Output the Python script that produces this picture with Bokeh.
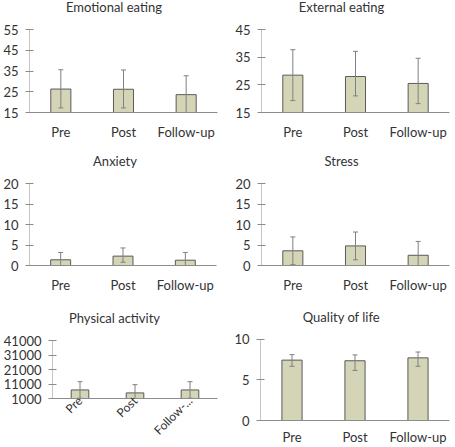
from math import pi

from bokeh.plotting import figure
from bokeh.layouts import column, row
from bokeh.models import Range1d, FactorRange, FixedTicker
from bokeh.core.properties import value
from bokeh.embed import file_html
from bokeh.resources import INLINE

# Measurement occasions
phases = ["Pre", "Post", "Follow-up"]
phases_pa = ["Pre", "Post", "Follow-..."]

# Emotional eating
emotional_mean = [26.3, 26.2, 23.6]
emotional_upper = [35.6, 35.5, 32.7]
emotional_lower = [17.2, 17.2, 14.5]

# External eating
external_mean = [28.5, 28.0, 25.5]
external_upper = [37.7, 37.1, 34.6]
external_lower = [19.3, 21.0, 18.2]

# Anxiety
anxiety_mean = [1.4, 2.3, 1.3]
anxiety_upper = [3.2, 4.3, 3.2]
anxiety_lower = [-0.4, 0.8, -0.6]

# Stress
stress_mean = [3.6, 4.8, 2.5]
stress_upper = [7.0, 8.2, 5.9]
stress_lower = [0.2, 1.4, -0.9]

# Physical activity
activity_mean = [6900, 4860, 6900]
activity_upper = [12600, 10550, 12600]
activity_lower = [1200, -840, 1200]

# Quality of life
qol_mean = [7.45, 7.37, 7.73]
qol_upper = [8.13, 8.09, 8.45]
qol_lower = [6.69, 6.18, 6.69]

# Y axis ticks
ticks_emotional = [15, 25, 35, 45, 55]
ticks_external = [15, 25, 35, 45]
ticks_0_20 = [0, 5, 10, 15, 20]
ticks_activity = [1000, 11000, 21000, 31000, 41000]
ticks_qol = [0, 5, 10]

FONT = "Lato"
TEXT = "#333333"
AXIS = "#8c8c8c"
BAR_FILL = "#d4d4b6"
BAR_LINE = "#5a5a5a"
ERR = "#808080"
TITLE_GAP = 23  # px between the title's centre and the top tick


def panel(title, cats, mean, lower, upper, ticks, width, height,
          left, right, top, bottom, rotate=False, label_standoff=11,
          label_size="13px"):
    ymin, ymax = ticks[0], ticks[-1]
    # the frame reaches the top edge so the title can sit inside it;
    # the top tick lands `top` px below the edge
    plot_px = height - bottom - top
    per_px = (ymax - ymin) / plot_px
    y_end = ymax + top * per_px

    p = figure(width=width, height=height,
               x_range=FactorRange(*cats), y_range=Range1d(ymin, y_end),
               output_backend="svg", toolbar_location=None,
               min_border_left=left, min_border_right=right,
               min_border_top=0, min_border_bottom=bottom)
    p.frame_align = False
    p.outline_line_color = None
    p.xgrid.grid_line_color = None
    p.ygrid.grid_line_color = None
    p.background_fill_color = "white"
    p.border_fill_color = "white"

    p.vbar(x=cats, top=mean, bottom=ymin, width=0.32,
           fill_color=BAR_FILL, line_color=BAR_LINE, line_width=1)
    p.segment(x0=cats, y0=lower, x1=cats, y1=upper,
              line_color=ERR, line_width=1)
    p.scatter(x=cats, y=upper, marker="dash", size=5,
              line_color=ERR, line_width=1)
    p.scatter(x=cats, y=lower, marker="dash", size=5,
              line_color=ERR, line_width=1)

    # value axis line only spans the tick range
    p.segment(x0=[0], y0=[ymin], x1=[0], y1=[ymax], line_color=AXIS, line_width=1)

    ya = p.yaxis[0]
    ya.ticker = FixedTicker(ticks=ticks)
    ya.axis_line_color = None
    ya.major_tick_line_color = AXIS
    ya.major_tick_in = 4
    ya.major_tick_out = 4
    ya.minor_tick_line_color = None
    ya.major_label_standoff = 7
    ya.major_label_text_font = FONT
    ya.major_label_text_font_size = "13px"
    ya.major_label_text_color = TEXT

    xa = p.xaxis[0]
    xa.axis_line_color = AXIS
    xa.major_tick_line_color = None
    xa.major_tick_in = 0
    xa.major_tick_out = 0
    xa.minor_tick_line_color = None
    xa.major_label_standoff = label_standoff
    xa.major_label_text_font = FONT
    xa.major_label_text_font_size = label_size
    xa.major_label_text_color = TEXT
    if rotate:
        xa.major_label_orientation = pi / 4

    # title centred over the whole panel rather than over the frame
    frame_mid = left + (width - left - right) / 2
    p.text(x=[len(cats) / 2], y=[ymax + TITLE_GAP * per_px], text=[title],
           x_offset=width / 2 - frame_mid,
           text_align="center", text_baseline="middle",
           text_font=value(FONT), text_font_size=value("13px"), text_color=TEXT)
    return p


p1 = panel("Emotional eating", phases, emotional_mean, emotional_lower, emotional_upper,
           ticks_emotional, 227, 145, 29, 10, 29, 33)
p2 = panel("External eating", phases, external_mean, external_lower, external_upper,
           ticks_external, 228, 145, 34, 6, 29, 33)
p3 = panel("Anxiety", phases, anxiety_mean, anxiety_lower, anxiety_upper,
           ticks_0_20, 227, 150, 27, 11, 39, 28)
p4 = panel("Stress", phases, stress_mean, stress_lower, stress_upper,
           ticks_0_20, 228, 150, 34, 6, 39, 28)
p5 = panel("Physical activity", phases_pa, activity_mean, activity_lower, activity_upper,
           ticks_activity, 227, 152, 51, 10, 45, 49, rotate=True, label_standoff=0,
           label_size="12px")
p6 = panel("Quality of life", phases, qol_mean, qol_lower, qol_upper,
           ticks_qol, 228, 152, 33, 6, 45, 24, label_standoff=8)

layout = column(row(p1, p2), row(p3, p4), row(p5, p6))

open("out.html", "w").write(file_html(layout, INLINE))
